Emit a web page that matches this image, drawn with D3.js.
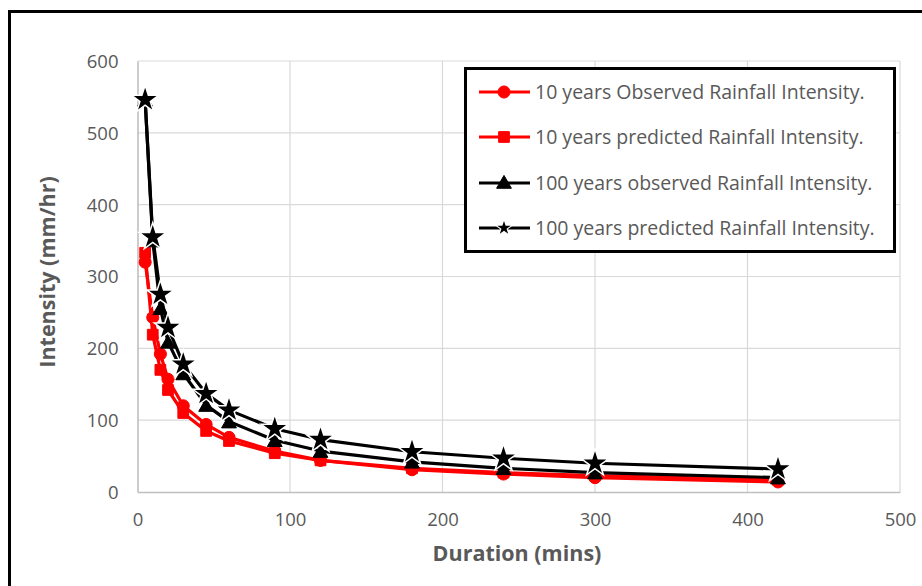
<!DOCTYPE html>
<html><head><meta charset="utf-8">
<script src="https://cdn.jsdelivr.net/npm/d3@7"></script>
<style>
html,body{margin:0;padding:0;background:#fff;}
svg{display:block;font-family:"Open Sans",Lato,sans-serif;}
</style></head>
<body>
<svg id="chart" width="922" height="586"></svg>
<script>
const durations = [5, 10, 15, 20, 30, 45, 60, 90, 120, 180, 240, 300, 420];
const obs10   = [320, 243, 192, 157, 120, 94, 76, 57, 44, 31, 25, 20, 14];
const pred10  = [333, 219, 170, 142, 110, 85, 71, 54, 44, 33, 27, 23, 17];
const obs100  = [546, 350, 256, 209, 165, 121, 98, 72, 57, 42, 33, 27, 20];
const pred100 = [546, 355, 275, 229, 178, 137, 114, 88, 73, 56, 47, 40, 32];
const xTicks = [0, 100, 200, 300, 400, 500];
const yTicks = [0, 100, 200, 300, 400, 500, 600];
const seriesNames = [
  "10 years Observed Rainfall Intensity.",
  "10 years predicted Rainfall Intensity.",
  "100 years observed Rainfall Intensity.",
  "100 years predicted Rainfall Intensity."
];

const series = [
  {name: seriesNames[0], values: obs10,  color: "#ff0000", marker: "circle"},
  {name: seriesNames[1], values: pred10, color: "#ff0000", marker: "square"},
  {name: seriesNames[2], values: obs100, color: "#000000", marker: "triangle"},
  {name: seriesNames[3], values: pred100,color: "#000000", marker: "star"}
];

const svg = d3.select("#chart");
const L = 137.5, R = 900, T = 61, B = 492;
const x = d3.scaleLinear().domain([0, 500]).range([L, R]);
const y = d3.scaleLinear().domain([0, 600]).range([B, T]);
const textCol = "#595959";
const font = "'Open Sans', Lato, sans-serif";

// outer border
svg.append("rect").attr("x", 9.5).attr("y", 11.5).attr("width", 930).attr("height", 600)
  .attr("fill", "none").attr("stroke", "#000").attr("stroke-width", 3);

// gridlines
const g = svg.append("g");
g.selectAll("line.hg").data(yTicks.filter(d => d > 0)).join("line")
  .attr("x1", L).attr("x2", R).attr("y1", d => y(d)).attr("y2", d => y(d))
  .attr("stroke", "#d9d9d9").attr("stroke-width", 1.2);
g.selectAll("line.vg").data(xTicks.filter(d => d > 0)).join("line")
  .attr("y1", T).attr("y2", B).attr("x1", d => x(d)).attr("x2", d => x(d))
  .attr("stroke", "#d9d9d9").attr("stroke-width", 1.2);

// axes
const xAxis = d3.axisBottom(x).tickValues(xTicks).tickSize(0).tickPadding(21);
const yAxis = d3.axisLeft(y).tickValues(yTicks).tickSize(0).tickPadding(19);
const gx = svg.append("g").attr("transform", `translate(0,${B})`).call(xAxis);
const gy = svg.append("g").attr("transform", `translate(${L},0)`).call(yAxis);
[gx, gy].forEach(a => {
  a.select(".domain").attr("stroke", "#bfbfbf").attr("stroke-width", 1.6);
  a.selectAll("text").attr("fill", textCol).style("font-size", "18.5px")
    .style("font-family", font);
});
gy.selectAll("text").attr("dy", "0.35em");

// axis titles
svg.append("text").attr("x", 517).attr("y", 561).attr("text-anchor", "middle")
  .attr("fill", textCol).style("font-size", "21.5px").style("font-weight", "bold")
  .style("font-family", font).text("Duration (mins)");
svg.append("text").attr("transform", "translate(55,272) rotate(-90)")
  .attr("text-anchor", "middle").attr("fill", textCol)
  .style("font-size", "21.5px").style("font-weight", "bold")
  .style("font-family", font).text("Intensity (mm/hr)");

// marker generator
function markerPath(type, scale) {
  const sizes = {circle: 115, square: 115, triangle: 95, star: 160};
  const types = {circle: d3.symbolCircle, square: d3.symbolSquare, triangle: d3.symbolTriangle, star: d3.symbolStar};
  return d3.symbol().type(types[type]).size(sizes[type] * scale)();
}

const line = d3.line().x(d => x(d[0])).y(d => y(d[1]));
const plot = svg.append("g");

series.forEach(s => {
  const pts = durations.map((d, i) => [d, s.values[i]]);
  plot.append("path").datum(pts).attr("d", line)
    .attr("fill", "none").attr("stroke", s.color).attr("stroke-width", 3.2)
    .attr("stroke-linejoin", "round");
  plot.selectAll(null).data(pts).join("path")
    .attr("transform", d => `translate(${x(d[0])},${y(d[1]) + (s.marker === "triangle" ? 2 : 0)})`)
    .attr("d", markerPath(s.marker, 1))
    .attr("fill", s.color)
    .attr("stroke", s.marker === "star" ? "#fff" : s.color)
    .attr("stroke-width", s.marker === "star" ? 3 : 1)
    .attr("paint-order", "stroke");
});

// legend
const lg = svg.append("g");
lg.append("rect").attr("x", 465.5).attr("y", 68.5).attr("width", 429).attr("height", 183)
  .attr("fill", "#fff").attr("stroke", "#000").attr("stroke-width", 3);
const rowsY = [92, 137, 183, 228];
series.forEach((s, i) => {
  const yy = rowsY[i];
  lg.append("line").attr("x1", 479).attr("x2", 530).attr("y1", yy).attr("y2", yy)
    .attr("stroke", s.color).attr("stroke-width", 3.2);
  lg.append("path").attr("transform", `translate(504,${yy + (s.marker === "triangle" ? 1 : 0)})`)
    .attr("d", markerPath(s.marker, s.marker === "star" ? 0.35 : 1))
    .attr("fill", s.color)
    .attr("stroke", s.marker === "star" ? "#fff" : s.color)
    .attr("stroke-width", s.marker === "star" ? 2 : 1)
    .attr("paint-order", "stroke");
  lg.append("text").attr("x", 535).attr("y", yy).attr("dy", "0.35em")
    .attr("fill", textCol).style("font-size", "19.5px").style("font-family", font)
    .text(s.name);
});
</script>
</body></html>
